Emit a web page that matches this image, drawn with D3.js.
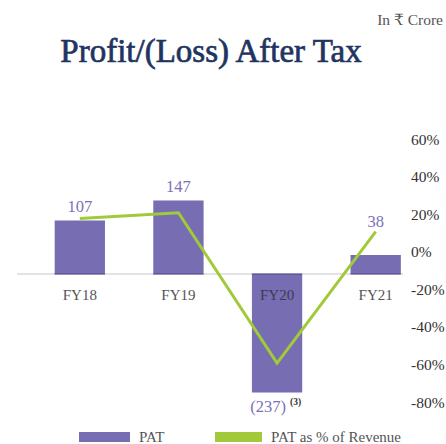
<!DOCTYPE html>
<html>
<head>
<meta charset="utf-8">
<script src="https://cdn.jsdelivr.net/npm/d3@7"></script>
<style>
  body { margin: 0; background: #fff; }
  text { font-family: "Liberation Serif", "DejaVu Serif", serif; }
</style>
</head>
<body>
<div id="viz-container"></div>
<script>
// data
let years = ["FY18", "FY19", "FY20", "FY21"];
let pat = [107, 147, -237, 38];
let patLabels = ["107", "147", "(237)", "38"];
let patPct = [18, 21, -59, 11];
let pctTicks = [60, 40, 20, 0, -20, -40, -60, -80];

let purple = "#766db2";
let green = "#a2c93a";

let viz = d3.select("#viz-container")
  .append("svg")
    .attr("width", 446)
    .attr("height", 444);

// title + unit
viz.append("text")
  .attr("x", 211).attr("y", 62)
  .attr("text-anchor", "middle")
  .attr("font-size", 33)
  .attr("fill", "#1f3561")
  .attr("stroke", "#1f3561")
  .attr("stroke-width", 0.7)
  .text("Profit/(Loss) After Tax");

viz.append("text")
  .attr("x", 443).attr("y", 25)
  .attr("text-anchor", "end")
  .attr("font-size", 15.5)
  .attr("fill", "#555")
  .text("In ₹ Crore");

// scales
let x = d3.scaleBand()
  .domain(years)
  .range([30.5, 425])
  .paddingInner(0.49)
  .paddingOuter(0.245);

let y = d3.scaleLinear()
  .domain([-300, 300])
  .range([424, 124]);

let yPct = d3.scaleLinear()
  .domain([-80, 60])
  .range([402.5, 139.5]);

// zero line
viz.append("line")
  .attr("x1", 17).attr("x2", 403)
  .attr("y1", y(0)).attr("y2", y(0))
  .attr("stroke", "#c8c8c8")
  .attr("stroke-width", 1.2);

// bars
viz.selectAll(".bar").data(pat).enter().append("rect")
  .attr("class", "bar")
  .attr("x", (d, i) => x(years[i]))
  .attr("width", x.bandwidth())
  .attr("y", d => y(Math.max(0, d)))
  .attr("height", d => Math.abs(y(d) - y(0)))
  .attr("fill", purple);

// darker edge at the bar base
viz.selectAll(".base").data(pat).enter().append("line")
  .attr("class", "base")
  .attr("x1", (d, i) => x(years[i]))
  .attr("x2", (d, i) => x(years[i]) + x.bandwidth())
  .attr("y1", y(0)).attr("y2", y(0))
  .attr("stroke", "#4a4585")
  .attr("stroke-width", 1.2);

// category labels
viz.selectAll(".cat").data(years).enter().append("text")
  .attr("class", "cat")
  .attr("x", d => x(d) + x.bandwidth() / 2)
  .attr("y", 300)
  .attr("text-anchor", "middle")
  .attr("font-size", 15)
  .attr("fill", d => d == "FY20" ? "#3d3b52" : "#555")
  .text(d => d);

// PAT % line
let line = d3.line()
  .x((d, i) => x(years[i]) + x.bandwidth() / 2)
  .y(d => yPct(d));

viz.append("path")
  .datum(patPct)
  .attr("d", line)
  .attr("fill", "none")
  .attr("stroke", green)
  .attr("stroke-width", 3);

// value labels
function labelY(d, i) {
  if (d < 0) return y(d) + 19;
  if (years[i] == "FY21") return yPct(patPct[i]) - 5;
  return y(d) - 9;
}

viz.selectAll(".val").data(pat).enter().append("text")
  .attr("class", "val")
  .attr("x", (d, i) => x(years[i]) + x.bandwidth() / 2 + (d < 0 ? -9 : 0))
  .attr("y", labelY)
  .attr("text-anchor", "middle")
  .attr("font-size", 16.5)
  .attr("fill", "#7a72b8")
  .text((d, i) => patLabels[i]);

viz.append("text")
  .attr("x", 290).attr("y", 405)
  .attr("font-size", 9.5)
  .attr("font-weight", "bold")
  .attr("fill", "#333")
  .text("(3)");

// right % axis
viz.selectAll(".pct").data(pctTicks).enter().append("text")
  .attr("class", "pct")
  .attr("x", 411)
  .attr("y", d => yPct(d) + 5)
  .attr("font-size", 15.5)
  .attr("fill", "#333")
  .text(d => d + "%");

// legend
let legend = [
  { name: "PAT", color: purple, x: 79, w: 51 },
  { name: "PAT as % of Revenue", color: green, x: 215, w: 47 }
];

viz.selectAll(".leg").data(legend).enter().append("rect")
  .attr("class", "leg")
  .attr("x", d => d.x).attr("y", 432)
  .attr("width", d => d.w).attr("height", 10)
  .attr("fill", d => d.color);

viz.selectAll(".legt").data(legend).enter().append("text")
  .attr("class", "legt")
  .attr("x", d => d.x + d.w + 9)
  .attr("y", 441.5)
  .attr("font-size", 15)
  .attr("fill", "#555")
  .text(d => d.name);
</script>
</body>
</html>
